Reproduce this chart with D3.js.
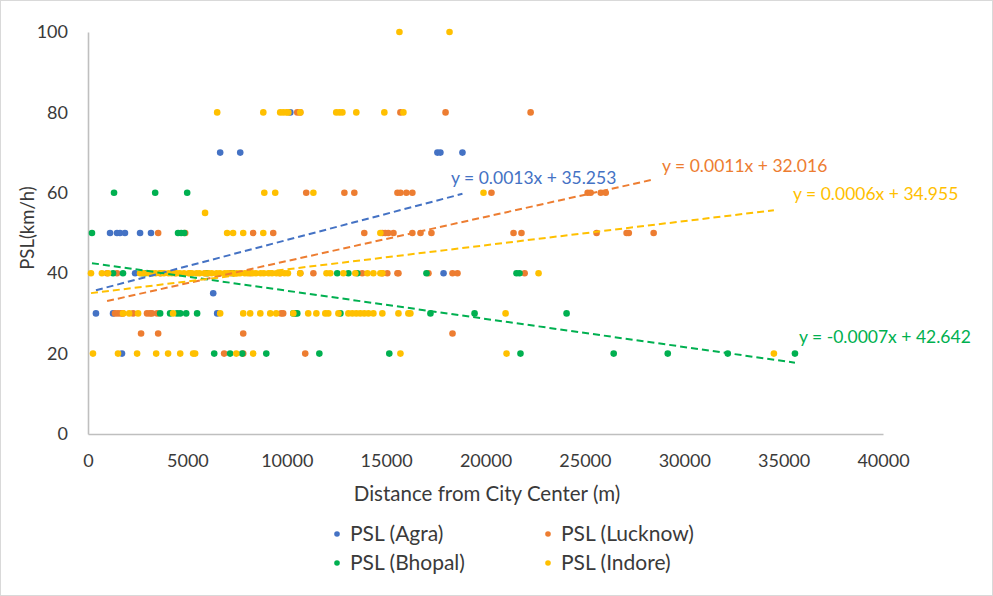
<!DOCTYPE html>
<html>
<head>
<meta charset="utf-8">
<script src="https://cdn.jsdelivr.net/npm/d3@7"></script>
<style>
  html, body { margin: 0; padding: 0; background: #fff; }
  svg { display: block; font-family: Lato, "Open Sans", sans-serif; }
</style>
</head>
<body>
<svg id="chart" width="993" height="596"></svg>
<script>
// Posted speed limit (km/h) against distance from the city center (m)
const seriesNames = ["PSL (Agra)", "PSL (Lucknow)", "PSL (Bhopal)", "PSL (Indore)"];
const seriesColors = ["#4472C4", "#ED7D31", "#00B050", "#FFC000"];

const agraPoints = [
  [10180, 80],
  [6650, 70], [7660, 70], [17580, 70], [17730, 70], [18840, 70],
  [1110, 50], [1460, 50], [1610, 50], [1860, 50], [2620, 50], [3170, 50],
  [2370, 40], [17890, 40],
  [6300, 35],
  [400, 30], [1260, 30], [6500, 30],
  [1710, 20]
];

const lucknowPoints = [
  [10530, 80], [10680, 80], [15720, 80], [17990, 80], [22270, 80],
  [10980, 60], [12900, 60], [13400, 60], [15570, 60], [15720, 60], [16020, 60],
  [16320, 60], [20300, 60], [25140, 60], [25290, 60], [25800, 60], [26050, 60],
  [3530, 50], [4890, 50], [8310, 50], [9320, 50], [13900, 50], [14810, 50],
  [14960, 50], [15110, 50], [15370, 50], [16320, 50], [16730, 50], [17280, 50],
  [21410, 50], [21810, 50], [25590, 50], [27100, 50], [27210, 50], [28460, 50],
  [960, 40], [1460, 40], [3630, 40], [4380, 40], [5140, 40], [5890, 40],
  [7150, 40], [8160, 40], [9670, 40], [10680, 40], [11340, 40], [13800, 40],
  [14810, 40], [15060, 40], [15570, 40], [15620, 40], [17130, 40], [18340, 40],
  [18590, 40], [21970, 40],
  [1360, 30], [1510, 30], [1660, 30], [1760, 30], [2270, 30], [2970, 30],
  [3120, 30], [3220, 30], [3480, 30], [9720, 30], [9820, 30],
  [2670, 25], [3530, 25], [7810, 25], [18340, 25],
  [6850, 20], [7810, 20], [10930, 20]
];

const bhopalPoints = [
  [1310, 60], [3380, 60], [4990, 60],
  [200, 50], [4530, 50], [4690, 50], [4840, 50],
  [1260, 40], [1760, 40], [2720, 40], [2870, 40], [6000, 40], [7300, 40],
  [12540, 40], [13100, 40], [13550, 40], [17030, 40], [21560, 40], [21710, 40],
  [3630, 30], [4130, 30], [4480, 30], [4640, 30], [4940, 30], [5490, 30],
  [10330, 30], [10430, 30], [10530, 30], [12700, 30], [17230, 30], [19450, 30],
  [24080, 30],
  [6350, 20], [7150, 20], [7760, 20], [8970, 20], [11640, 20], [15160, 20],
  [21760, 20], [26450, 20], [29170, 20], [32190, 20], [35570, 20]
];

const indorePoints = [
  [15670, 100], [18190, 100],
  [6500, 80], [8820, 80], [9670, 80], [9820, 80], [9980, 80], [10080, 80],
  [10680, 80], [12490, 80], [12650, 80], [12800, 80], [13500, 80], [14910, 80],
  [15870, 80],
  [8870, 60], [9420, 60], [11340, 60], [19900, 60],
  [5890, 55],
  [7000, 50], [7300, 50], [7810, 50], [8820, 50], [14710, 50],
  [150, 40], [700, 40], [1010, 40], [2620, 40], [2790, 40], [3050, 40],
  [3240, 40], [3410, 40], [3660, 40], [3820, 40], [4050, 40], [4210, 40],
  [4460, 40], [4620, 40], [4830, 40], [5070, 40], [5230, 40], [5460, 40],
  [5610, 40], [5870, 40], [6060, 40], [6230, 40], [6470, 40], [6640, 40],
  [6880, 40], [7030, 40], [7270, 40], [7480, 40], [7650, 40], [7890, 40],
  [8040, 40], [8280, 40], [8450, 40], [8690, 40], [8850, 40], [9090, 40],
  [9260, 40], [9480, 40], [9650, 40], [9890, 40], [10060, 40], [10680, 40],
  [12000, 40], [12190, 40], [12850, 40], [13450, 40], [14060, 40], [14360, 40],
  [14710, 40], [14810, 40], [22670, 40],
  [1760, 30], [2070, 30], [2520, 30], [4280, 30], [6650, 30], [7810, 30],
  [8160, 30], [8670, 30], [9170, 30], [9470, 30], [10330, 30], [11080, 30],
  [11490, 30], [11940, 30], [12090, 30], [12600, 30], [13100, 30], [13300, 30],
  [13500, 30], [13700, 30], [13900, 30], [14110, 30], [14360, 30], [14810, 30],
  [15620, 30], [16120, 30], [16220, 30], [21010, 30],
  [250, 20], [1510, 20], [2470, 20], [3430, 20], [4030, 20], [4640, 20],
  [5290, 20], [5390, 20], [7460, 20], [8310, 20], [15720, 20], [21060, 20],
  [34510, 20]
];

// Linear trend lines: PSL = slope * distance + intercept
const trendSlopes = [0.0013, 0.0011, -0.0007, 0.0006];
const trendIntercepts = [35.253, 32.016, 42.642, 34.955];

const xTicks = [0, 5000, 10000, 15000, 20000, 25000, 30000, 35000, 40000];
const yTicks = [0, 20, 40, 60, 80, 100];

const allSeries = [agraPoints, lucknowPoints, bhopalPoints, indorePoints];

// ---- layout ----
const svg = d3.select("#chart");
const W = 993, H = 596;
const plot = { left: 88, right: 883, top: 32, bottom: 434 };
const textColor = "#3a3a3a";
const axisColor = "#bfbfbf";
// where each trend-line equation sits (left edge, baseline), in series order
const labelPos = [[451, 184], [662, 172], [799, 343], [793, 200]];

svg.append("rect")
  .attr("x", 0.5).attr("y", 0.5)
  .attr("width", W - 1).attr("height", H - 1)
  .attr("fill", "#fff").attr("stroke", "#d9d9d9");

const x = d3.scaleLinear().domain([0, 40000]).range([plot.left, plot.right]);
const y = d3.scaleLinear().domain([0, 100]).range([plot.bottom, plot.top]);

// axes
const xAxis = svg.append("g")
  .attr("transform", `translate(0,${plot.bottom})`)
  .call(d3.axisBottom(x).tickValues(xTicks).tickFormat(d3.format("d"))
    .tickSize(0).tickSizeOuter(0).tickPadding(20));
const yAxis = svg.append("g")
  .attr("transform", `translate(${plot.left},0)`)
  .call(d3.axisLeft(y).tickValues(yTicks).tickFormat(d3.format("d"))
    .tickSize(0).tickSizeOuter(0).tickPadding(20));

[xAxis, yAxis].forEach(g => {
  g.select(".domain").attr("stroke", axisColor).attr("stroke-width", 1.6);
  g.selectAll(".tick text")
    .attr("fill", textColor)
    .style("font-size", "18px")
    .style("font-family", "Lato, 'Open Sans', sans-serif");
});

// axis titles
svg.append("text")
  .attr("x", 487).attr("y", 501)
  .attr("text-anchor", "middle")
  .attr("fill", textColor)
  .style("font-size", "20.5px")
  .text("Distance from City Center (m)");

svg.append("text")
  .attr("transform", "translate(34,228) rotate(-90)")
  .attr("text-anchor", "middle")
  .attr("fill", textColor)
  .style("font-size", "18.5px")
  .text("PSL(km/h)");

// points
allSeries.forEach((pts, i) => {
  svg.append("g")
    .selectAll("circle")
    .data(pts)
    .join("circle")
    .attr("cx", d => x(d[0]))
    .attr("cy", d => y(d[1]))
    .attr("r", 3.3)
    .attr("fill", seriesColors[i]);
});

// trend lines and their equations
allSeries.forEach((pts, i) => {
  const [x0, x1] = d3.extent(pts, d => d[0]);
  const f = v => trendSlopes[i] * v + trendIntercepts[i];
  svg.append("line")
    .attr("x1", x(x0)).attr("y1", y(f(x0)))
    .attr("x2", x(x1)).attr("y2", y(f(x1)))
    .attr("stroke", seriesColors[i])
    .attr("stroke-width", 2)
    .attr("stroke-dasharray", "7,4");
  const sign = trendIntercepts[i] >= 0 ? "+" : "-";
  svg.append("text")
    .attr("x", labelPos[i][0])
    .attr("y", labelPos[i][1])
    .attr("fill", seriesColors[i])
    .style("font-size", "17.5px")
    .text(`y = ${trendSlopes[i]}x ${sign} ${Math.abs(trendIntercepts[i])}`);
});

// legend
const legendPos = [[337, 534], [548, 534], [337, 563], [548, 563]];
const legend = svg.append("g");
seriesNames.forEach((name, i) => {
  const [lx, ly] = legendPos[i];
  legend.append("circle")
    .attr("cx", lx).attr("cy", ly).attr("r", 2.8)
    .attr("fill", seriesColors[i]);
  legend.append("text")
    .attr("x", lx + 13).attr("y", ly)
    .attr("dy", "0.35em")
    .attr("fill", textColor)
    .style("font-size", "21px")
    .text(name);
});
</script>
</body>
</html>
